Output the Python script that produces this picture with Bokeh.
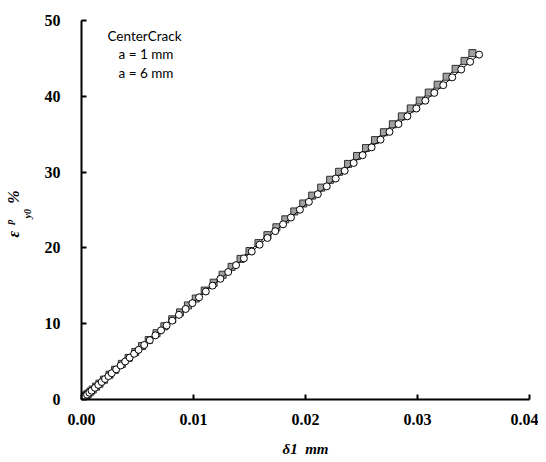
from bokeh.plotting import figure
from bokeh.models import Range1d, Label, FixedTicker, ColumnDataSource, Title
from bokeh.embed import file_html
from bokeh.resources import INLINE

# a = 1 mm (circles)
x_a1 = [0.0000, 0.0001, 0.0002, 0.0003, 0.0005, 0.0007, 0.0009, 0.0012, 0.0015, 0.0018,
        0.0021, 0.0024, 0.0027, 0.0031, 0.0035, 0.0039, 0.0043, 0.0047, 0.0051, 0.0056,
        0.0061, 0.0066, 0.0071, 0.0076, 0.0081, 0.0087, 0.0093, 0.0099, 0.0105, 0.0111,
        0.0117, 0.0124, 0.0131, 0.0138, 0.0145, 0.0152, 0.0159, 0.0166, 0.0173, 0.0180,
        0.0187, 0.0195, 0.0203, 0.0211, 0.0219, 0.0227, 0.0235, 0.0243, 0.0251, 0.0259,
        0.0267, 0.0275, 0.0283, 0.0291, 0.0299, 0.0307, 0.0315, 0.0323, 0.0331, 0.0339,
        0.0347, 0.0355]
y_a1 = [0.00, 0.13, 0.26, 0.39, 0.64, 0.90, 1.16, 1.54, 1.93, 2.31,
        2.70, 3.08, 3.47, 3.98, 4.49, 5.01, 5.52, 6.03, 6.55, 7.19,
        7.83, 8.47, 9.12, 9.76, 10.40, 11.17, 11.94, 12.71, 13.48, 14.25,
        15.02, 15.92, 16.82, 17.72, 18.62, 19.52, 20.42, 21.31, 22.21, 23.11,
        24.01, 25.04, 26.07, 27.09, 28.12, 29.15, 30.17, 31.20, 32.23, 33.26,
        34.28, 35.31, 36.34, 37.36, 38.39, 39.42, 40.45, 41.47, 42.50, 43.53,
        44.55, 45.50]

# a = 6 mm (squares)
x_a6 = [0.0000, 0.00005, 0.0001, 0.00015, 0.0002, 0.0003, 0.0004, 0.0005, 0.0006, 0.0008,
        0.0010, 0.0013, 0.0016, 0.0020, 0.0025, 0.0030, 0.0036, 0.0042, 0.0048, 0.0054,
        0.0060, 0.0067, 0.0074, 0.0081, 0.0088, 0.0095, 0.0102, 0.0110, 0.0118, 0.0126,
        0.0134, 0.0142, 0.0150, 0.0158, 0.0166, 0.0174, 0.0182, 0.0190, 0.0198, 0.0206,
        0.0214, 0.0222, 0.0230, 0.0238, 0.0246, 0.0254, 0.0262, 0.0270, 0.0278, 0.0286,
        0.0294, 0.0302, 0.0310, 0.0318, 0.0326, 0.0334, 0.0342, 0.0349]
y_a6 = [0.00, 0.07, 0.13, 0.20, 0.26, 0.39, 0.52, 0.65, 0.78, 1.04,
        1.31, 1.70, 2.09, 2.61, 3.27, 3.92, 4.70, 5.49, 6.27, 7.05,
        7.84, 8.75, 9.66, 10.58, 11.49, 12.41, 13.32, 14.37, 15.41, 16.46,
        17.50, 18.55, 19.59, 20.63, 21.68, 22.72, 23.77, 24.81, 25.86, 26.90,
        27.95, 28.99, 30.04, 31.08, 32.13, 33.17, 34.22, 35.26, 36.31, 37.35,
        38.40, 39.44, 40.49, 41.53, 42.58, 43.62, 44.67, 45.70]

x_ticks = [0.0, 0.01, 0.02, 0.03, 0.04]
x_tick_labels = ["0.00", "0.01", "0.02", "0.03", "0.04"]
y_ticks = [0, 10, 20, 30, 40, 50]
legend_title = "CenterCrack"
legend_items = ["a = 1 mm", "a = 6 mm"]

p = figure(width=538, height=461, output_backend="svg", toolbar_location=None,
           x_range=Range1d(0, 0.04), y_range=Range1d(0, 50),
           min_border_left=81, min_border_right=9, min_border_top=20, min_border_bottom=62)
p.outline_line_color = None
p.grid.visible = False

src6 = ColumnDataSource(dict(x=x_a6, y=y_a6))
src1 = ColumnDataSource(dict(x=x_a1, y=y_a1))
p.line("x", "y", source=src6, line_color="black", line_width=1)
p.scatter("x", "y", source=src6, marker="square", size=7, fill_color="#a0a0a0",
          line_color="#303030", line_width=1)
p.line("x", "y", source=src1, line_color="black", line_width=1)
p.scatter("x", "y", source=src1, marker="circle", size=7, fill_color="white",
          line_color="black", line_width=1)

for ax in (p.xaxis[0], p.yaxis[0]):
    ax.axis_line_width = 2
    ax.axis_line_color = "black"
    ax.major_tick_in = 5
    ax.major_tick_out = 0
    ax.major_tick_line_width = 2
    ax.major_tick_line_color = "black"
    ax.minor_tick_line_color = None
    ax.major_label_text_font = "Liberation Serif"
    ax.major_label_text_font_style = "bold"
    ax.major_label_text_font_size = "16px"
    ax.major_label_text_color = "black"

p.xaxis.ticker = FixedTicker(ticks=x_ticks)
p.xaxis.major_label_overrides = {t: l for t, l in zip(x_ticks, x_tick_labels)}
p.xaxis.major_label_standoff = 14
p.yaxis.ticker = FixedTicker(ticks=y_ticks)
p.yaxis.major_label_standoff = 21

p.xaxis.axis_label = "δ1\u2002mm"
p.xaxis.axis_label_text_font = "Liberation Serif"
p.xaxis.axis_label_text_font_style = "bold italic"
p.xaxis.axis_label_text_font_size = "15px"
p.xaxis.axis_label_text_color = "black"
p.xaxis.axis_label_standoff = 13

# y axis label: ε (with superscript p and subscript y0) and %
t_sub = Title(text="y0", align="left", offset=181, standoff=18, text_font="Liberation Serif",
              text_font_style="bold italic", text_font_size="10px", text_color="black")
t_main = Title(text="ε\u2003\u2002\u2009%", align="left", offset=162, standoff=-22,
               text_font="Liberation Serif", text_font_style="bold italic",
               text_font_size="16px", text_color="black")
t_sup = Title(text="p", align="left", offset=175, standoff=-8, text_font="Liberation Serif",
              text_font_style="bold italic", text_font_size="10px", text_color="black")
p.add_layout(t_sub, "left")
p.add_layout(t_main, "left")
p.add_layout(t_sup, "left")

# legend text (no markers in the reference legend)
p.add_layout(Label(x=0.00232, y=48.0, text=legend_title, text_font="Lato",
                   text_font_size="13.5px", text_color="black", text_baseline="middle"))
for i, t in enumerate(legend_items):
    p.add_layout(Label(x=0.0033, y=45.6 - 2.5 * i, text=t, text_font="Lato",
                       text_font_size="13.5px", text_color="black", text_baseline="middle"))

open("out.html", "w").write(file_html(p, INLINE))
